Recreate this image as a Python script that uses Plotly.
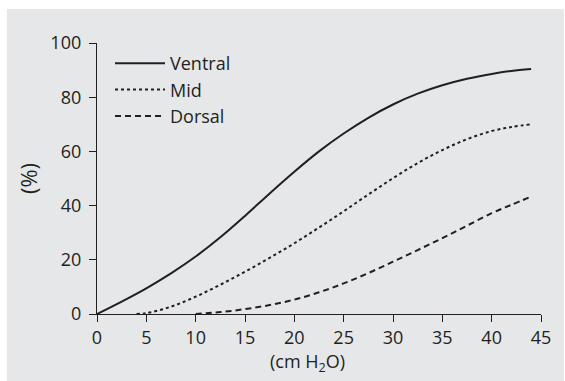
import plotly.graph_objects as go

# Data
x_ventral = [0, 2.5, 5, 7.5, 10, 12.5, 15, 17.5, 20, 22.5, 25, 27.5, 30, 32.5, 35, 37.5, 40, 42, 44]
y_ventral = [0, 4.6, 9.5, 15, 21.2, 28.3, 36.2, 44.5, 52.5, 60, 66.6, 72.4, 77.3, 81.3, 84.4, 86.8, 88.6, 89.7, 90.4]

x_mid = [4, 5, 7.5, 10, 12.5, 15, 17.5, 20, 22.5, 25, 27.5, 30, 32.5, 35, 37.5, 40, 42, 44]
y_mid = [0, 0.3, 2.7, 6.4, 10.8, 15.6, 20.7, 26.1, 31.9, 37.9, 44.1, 50.1, 55.7, 60.5, 64.5, 67.5, 69, 70]

x_dorsal = [10, 12.5, 15, 17.5, 20, 22.5, 25, 27.5, 30, 32.5, 35, 37.5, 40, 42, 44]
y_dorsal = [0, 0.7, 1.8, 3.3, 5.3, 8, 11.3, 15.1, 19.3, 23.6, 28, 32.6, 37.2, 40.3, 43.3]

series_names = ["Ventral", "Mid", "Dorsal"]
x_ticks = [0, 5, 10, 15, 20, 25, 30, 35, 40, 45]
y_ticks = [0, 20, 40, 60, 80, 100]

INK = "#231f20"
FONT = "Open Sans"
FS = 18

fig = go.Figure()
fig.add_trace(go.Scatter(x=x_ventral, y=y_ventral, name=series_names[0], mode="lines",
                         line=dict(color=INK, width=2, shape="spline", smoothing=1)))
fig.add_trace(go.Scatter(x=x_mid, y=y_mid, name=series_names[1], mode="lines",
                         line=dict(color=INK, width=2, dash="3px,3px", shape="spline", smoothing=1)))
fig.add_trace(go.Scatter(x=x_dorsal, y=y_dorsal, name=series_names[2], mode="lines",
                         line=dict(color=INK, width=2, dash="6px,4px", shape="spline", smoothing=1)))

W, H = 565, 381
ml, mr, mt, mb = 97, 24, 43, 67
pw = W - ml - mr
ph = H - mt - mb

def px_to_paper_x(px):
    return (px - ml) / pw

def px_to_paper_y(py):
    return (H - mb - py) / ph

fig.add_shape(type="rect", xref="paper", yref="paper",
              x0=px_to_paper_x(7), x1=px_to_paper_x(564),
              y0=px_to_paper_y(381), y1=px_to_paper_y(9),
              fillcolor="#e6e7e8", line=dict(width=0), layer="below")

fig.add_annotation(text="(cm H<sub>2</sub>O)", xref="paper", yref="paper",
                   x=px_to_paper_x(307), y=px_to_paper_y(362),
                   xanchor="center", yanchor="middle", showarrow=False,
                   font=dict(size=FS, family=FONT, color=INK))

fig.update_layout(
    width=W, height=H,
    margin=dict(l=ml, r=mr, t=mt, b=mb),
    paper_bgcolor="white",
    plot_bgcolor="rgba(0,0,0,0)",
    font=dict(family=FONT, size=FS, color=INK),
    showlegend=True,
    legend=dict(x=px_to_paper_x(110), y=px_to_paper_y(45), xanchor="left", yanchor="top",
                bgcolor="rgba(0,0,0,0)", font=dict(size=FS, family=FONT, color=INK),
                itemwidth=50, tracegroupgap=0),
)
fig.update_xaxes(range=[0, 45], tickvals=x_ticks, ticks="outside", ticklen=7, tickwidth=1.3,
                 tickcolor=INK, showline=True, linecolor=INK, linewidth=1.3,
                 showgrid=False, zeroline=False,
                 tickfont=dict(size=FS))
fig.update_yaxes(range=[0, 100], tickvals=y_ticks, ticks="outside", ticklen=7, tickwidth=1.3,
                 tickcolor=INK, showline=True, linecolor=INK, linewidth=1.3,
                 showgrid=False, zeroline=False, ticklabelstandoff=4,
                 title=dict(text="(%)", standoff=6),
                 tickfont=dict(size=FS))

fig.write_html("out.html")
